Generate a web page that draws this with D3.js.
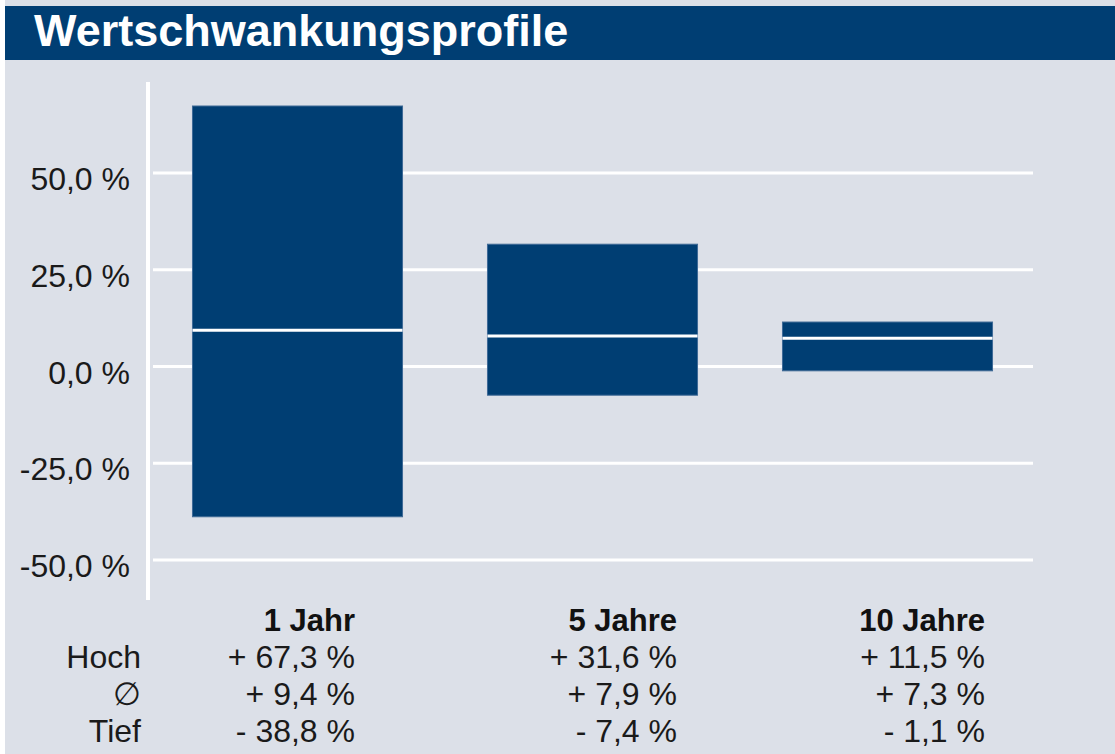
<!DOCTYPE html>
<html>
<head>
<meta charset="utf-8">
<script src="https://cdn.jsdelivr.net/npm/d3@7"></script>
<style>
  html, body { margin: 0; padding: 0; background: #ffffff; }
  svg { display: block; font-family: "Liberation Sans", Arial, sans-serif; }
  .tickLabel { font-size: 32px; fill: #1a1a1a; text-anchor: end; }
  .tableText { font-size: 32px; fill: #1a1a1a; text-anchor: end; }
  .tableHead { font-size: 31px; font-weight: bold; fill: #111; text-anchor: end; }
</style>
</head>
<body>
<svg id="chart" width="1115" height="754"></svg>
<script>
//////////////////// DATA ////////////////////
const periods = ["1 Jahr", "5 Jahre", "10 Jahre"];
const highs = [67.3, 31.6, 11.5];
const means = [9.4, 7.9, 7.3];
const lows = [-38.8, -7.4, -1.1];
const yTicks = [-50, -25, 0, 25, 50];
const rowLabels = ["Hoch", "\u2205", "Tief"];

//////////////////// SIZES ////////////////////
const W = 1115, H = 754;
const navy = "#003e73";
const bg = "#dce0e8";

const plot = { left: 150, right: 1035, top: 82, bottom: 600 };
const gridLeft = 153, gridRight = 1033;
// right edges of the table columns and row baselines
const colRight = [355, 677, 985];
const rowLabelRight = 141;
const headBaseline = 631;
const rowStep = 37;

const svg = d3.select("#chart");

// background
svg.append("rect")
    .attr("x", 5).attr("y", 0)
    .attr("width", W - 5).attr("height", H)
    .attr("fill", bg);

// title bar
svg.append("rect")
    .attr("x", 5).attr("y", 6)
    .attr("width", W - 5).attr("height", 54)
    .attr("fill", navy);

svg.append("text")
    .attr("x", 34).attr("y", 46)
    .attr("fill", "#fff")
    .attr("font-size", 45)
    .attr("font-weight", "bold")
    .text("Wertschwankungsprofile");

//////////////////// SCALES ////////////////////
const y = d3.scaleLinear()
    .domain([-60.3, 73.5])
    .range([plot.bottom, plot.top]);

const x = d3.scaleBand()
    .domain(periods)
    .range([plot.left, plot.right])
    .paddingInner(0.288)
    .paddingOuter(0.144);

const fmt = v => d3.format(".1f")(Math.abs(v)).replace(".", ",");

//////////////////// GRID + AXIS ////////////////////
svg.selectAll(".grid")
    .data(yTicks)
    .join("line")
    .attr("class", "grid")
    .attr("x1", gridLeft).attr("x2", gridRight)
    .attr("y1", d => y(d)).attr("y2", d => y(d))
    .attr("stroke", "#fff")
    .attr("stroke-width", 3);

svg.append("line")
    .attr("x1", 148).attr("x2", 148)
    .attr("y1", plot.top).attr("y2", plot.bottom)
    .attr("stroke", "#fff")
    .attr("stroke-width", 4);

svg.selectAll(".tickLabel")
    .data(yTicks)
    .join("text")
    .attr("class", "tickLabel")
    .attr("x", 130)
    .attr("y", d => y(d) + 17)
    .text(d => (d < 0 ? "-" : "") + fmt(d) + " %");

//////////////////// BARS ////////////////////
const rows = periods.map((p, i) => ({ p: p, hi: highs[i], mean: means[i], lo: lows[i] }));

svg.selectAll(".bar")
    .data(rows)
    .join("rect")
    .attr("class", "bar")
    .attr("x", d => x(d.p))
    .attr("y", d => y(d.hi))
    .attr("width", x.bandwidth())
    .attr("height", d => y(d.lo) - y(d.hi))
    .attr("fill", navy)
    .attr("stroke", "#3f6a96")
    .attr("stroke-width", 1);

svg.selectAll(".meanLine")
    .data(rows)
    .join("line")
    .attr("class", "meanLine")
    .attr("x1", d => x(d.p))
    .attr("x2", d => x(d.p) + x.bandwidth())
    .attr("y1", d => y(d.mean))
    .attr("y2", d => y(d.mean))
    .attr("stroke", "#fff")
    .attr("stroke-width", 3);

//////////////////// TABLE ////////////////////
svg.selectAll(".tableHead")
    .data(periods)
    .join("text")
    .attr("class", "tableHead")
    .attr("x", (d, i) => colRight[i])
    .attr("y", headBaseline)
    .text(d => d);

svg.selectAll(".rowLabel")
    .data(rowLabels)
    .join("text")
    .attr("class", "tableText rowLabel")
    .attr("x", rowLabelRight)
    .attr("y", (d, i) => headBaseline + rowStep * (i + 1))
    .text(d => d);

const signed = v => (v < 0 ? "- " : "+ ") + fmt(v) + " %";
[highs, means, lows].forEach((series, r) => {
    svg.selectAll(".val" + r)
        .data(series)
        .join("text")
        .attr("class", "tableText val" + r)
        .attr("x", (d, i) => colRight[i])
        .attr("y", headBaseline + rowStep * (r + 1))
        .text(d => signed(d));
});
</script>
</body>
</html>
